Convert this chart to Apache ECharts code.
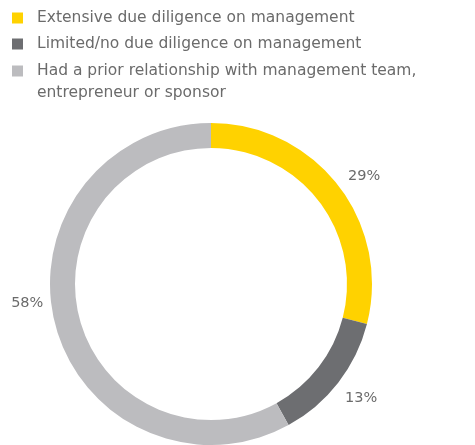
<!DOCTYPE html>
<html>
<head>
<meta charset="utf-8">
<script src="https://cdn.jsdelivr.net/npm/echarts@6/dist/echarts.min.js"></script>
<style>html,body{margin:0;padding:0;background:#fff}#c{width:475px;height:445px}</style>
</head>
<body>
<div id="c"></div>
<script>
var categories = ['Extensive due diligence on management', 'Limited/no due diligence on management', 'Had a prior relationship with management team, entrepreneur or sponsor'];
var legendLabels = ['Extensive due diligence on management', 'Limited/no due diligence on management', '{b|}\nHad a prior relationship with management team,\nentrepreneur or sponsor'];
var values = [29, 13, 58];
var colors = ['#ffd200', '#6d6e71', '#bcbcbf'];

var chart = echarts.init(document.getElementById('c'));
var font = 'DejaVu Sans';
var textColor = '#6b6b6b';
function mkLegend(i, top) {
  return {
    show: true, orient: 'vertical', left: 12, top: top, padding: 0,
    itemWidth: 11, itemHeight: 11, icon: 'rect',
    data: [categories[i]],
    formatter: function () { return legendLabels[i]; },
    textStyle: { fontFamily: font, fontSize: 15.5, color: textColor, lineHeight: 22, padding: [0,0,0,9],
      rich: { b: { fontFamily: font, fontSize: 15.5, lineHeight: 22 } } }
  };
}
chart.setOption({
  animation: false,
  color: colors,
  legend: [mkLegend(0, 7), mkLegend(1, 33), mkLegend(2, 38)],
  series: [{
    type: 'pie',
    center: [211, 284],
    radius: [136, 161],
    startAngle: 90,
    clockwise: true,
    avoidLabelOverlap: false,
    silent: true,
    data: categories.map(function (c, i) { return { name: c, value: values[i] }; }),
    label: {
      show: true, position: 'outside', formatter: '{c}%',
      fontFamily: font, fontSize: 14.5, color: textColor
    },
    labelLine: { show: false, length: 10, length2: 0 },
    labelLayout: function (p) {
      if (p.dataIndex === 0) return { dy: -3, dx: -3 };
      if (p.dataIndex === 1) return { dy: 9, dx: -6 };
      if (p.dataIndex === 2) return { dy: -23, dx: 3 };
      return {};
    }
  }]
});
</script>
</body>
</html>
